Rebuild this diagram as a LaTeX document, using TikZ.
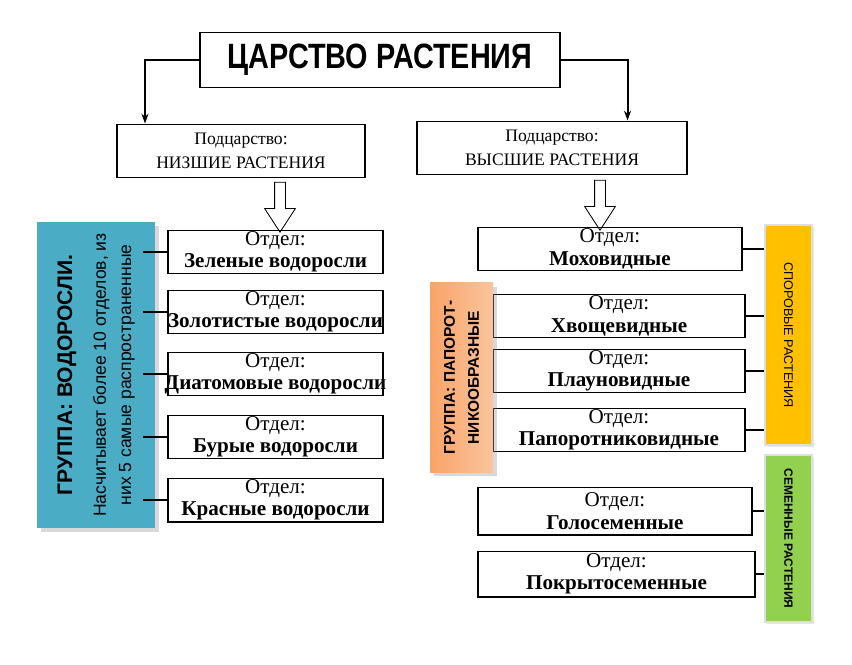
\documentclass[tikz,border=0pt]{standalone}
\usepackage{fontspec}
\setmainfont{Liberation Serif}
\setsansfont{Liberation Sans}
\usepackage{tikz}
\usetikzlibrary{arrows.meta,positioning,shapes.arrows,shadows}

\definecolor{algaeblue}{HTML}{4BACC6}
\definecolor{fernorange}{HTML}{F8A468}
\definecolor{fernlight}{HTML}{FAC49C}
\definecolor{sporeyellow}{HTML}{FFC000}
\definecolor{seedgreen}{HTML}{92D050}

\begin{document}
\begin{tikzpicture}[x=0.025cm, y=-0.025cm,
    title/.style={draw, line width=1.4pt, minimum width=9cm, minimum height=1.375cm,
                font=\sffamily\bfseries\fontsize{25}{27}\selectfont},
    sub/.style={draw, line width=1.4pt, minimum width=#1, minimum height=1.325cm,
                align=center, font=\fontsize{12.5}{17}\selectfont},
    box/.style={draw, line width=1.4pt, minimum width=#1, minimum height=1.075cm,
                inner sep=0pt, align=center, font=\fontsize{15}{16}\selectfont},
    box/.default=5.375cm,
    group/.style={fill=#1, rotate=90, align=center, inner sep=2pt,
                drop shadow={opacity=0.3, shadow xshift=3pt, shadow yshift=-3pt}},
    tag/.style={fill=#1, draw=gray!25, line width=1pt, rotate=-90, inner sep=2pt,
                minimum height=1.175cm, font=\sffamily\fontsize{9}{10}\selectfont,
                drop shadow={opacity=0.2, shadow xshift=1.5pt, shadow yshift=-1.5pt}},
    arrow/.style={-{Stealth[length=7pt, width=5pt]}, line width=1.4pt},
    link/.style={line width=1.4pt},
    hollow/.style={single arrow, draw, line width=0.6pt, fill=white, inner sep=0.125cm,
                shape border rotate=270, minimum height=1.25cm,
                single arrow head extend=0.25cm, single arrow tip angle=66},
]
\useasboundingbox (0,0) rectangle (852,664);

% Kingdom
\node[title] (kingdom) at (380,60) {\scalebox{0.82}[1]{ЦАРСТВО РАСТЕНИЯ}};

% Subkingdoms
\node[sub=6.2cm] (lower) at (241,151) {Подцарство:\\НИЗШИЕ РАСТЕНИЯ};
\node[sub=6.725cm] (higher) at (552,148) {Подцарство:\\ВЫСШИЕ РАСТЕНИЯ};
\draw[arrow] (kingdom.west) -| ([xshift=0.725cm]lower.north west);
\draw[arrow] (kingdom.east) -| ([xshift=-1.5cm]higher.north east);

\node[hollow] (downL) at (280,203) {};
\node[hollow] (downR) at (600,201) {};

% Algae
\node[group=algaeblue, minimum width=7.65cm, minimum height=2.95cm,
      font=\sffamily\fontsize{12.5}{18}\selectfont] (algae) at (96,375)
      {{\bfseries\fontsize{15}{18}\selectfont ГРУППА: ВОДОРОСЛИ.}\\[6pt]Насчитывает более 10 отделов, из\\них 5 самые распространенные};

\node[box] (greenalg) at (275.5,252) {Отдел:\\\textbf{Зеленые водоросли}};
\node[box] (goldalg)  at (275.5,312) {Отдел:\\\makebox[5cm]{\textbf{Золотистые водоросли}}};
\node[box] (diatalg)  at (275.5,374) {Отдел:\\\makebox[5cm]{\textbf{Диатомовые водоросли}}};
\node[box] (brownalg) at (275.5,437) {Отдел:\\\textbf{Бурые водоросли}};
\node[box] (redalg)   at (275.5,500) {Отдел:\\\textbf{Красные водоросли}};
\foreach \n in {greenalg,goldalg,diatalg,brownalg,redalg}
    \draw[link] ([xshift=-0.3cm]algae.south |- \n.west) -- (\n.west);

% Higher plants
\node[box=6.6cm] (moss) at (610,249) {Отдел:\\\textbf{Моховидные}};
\node[box=6.3cm] (horsetail) at (619,316) {Отдел:\\\textbf{Хвощевидные}};
\node[box=6.3cm] (clubmoss) at (619,371) {Отдел:\\\textbf{Плауновидные}};
\node[box=6.3cm] (fern) at (619,430) {Отдел:\\\textbf{Папоротниковидные}};
\node[box=6.85cm, minimum height=1.175cm] (gymno) at (615,511) {Отдел:\\\textbf{Голосеменные}};
\node[box=6.925cm, minimum height=1.125cm] (angio) at (616.5,574) {Отдел:\\\textbf{Покрытосеменные}};

\node[group=fernorange, left color=fernorange, right color=fernlight,
      minimum width=4.725cm, minimum height=1.575cm,
      font=\sffamily\bfseries\fontsize{11}{17}\selectfont] (ferngroup) at (461.5,377.5)
      {ГРУППА: ПАПОРОТ-\\НИКООБРАЗНЫЕ};

\node[tag=sporeyellow, minimum width=5.5cm] (spore) at (788.5,335) {СПОРОВЫЕ РАСТЕНИЯ};
\node[tag=seedgreen, minimum width=4.175cm, font=\sffamily\bfseries\fontsize{8.5}{10}\selectfont]
      (seed) at (788.5,538.5) {СЕМЕННЫЕ РАСТЕНИЯ};

\foreach \n in {moss,horsetail,clubmoss,fern}
    \draw[link] (\n.east) -- (\n.east -| spore.south);
\foreach \n in {gymno,angio}
    \draw[link] (\n.east) -- (\n.east -| seed.south);
\end{tikzpicture}
\end{document}
